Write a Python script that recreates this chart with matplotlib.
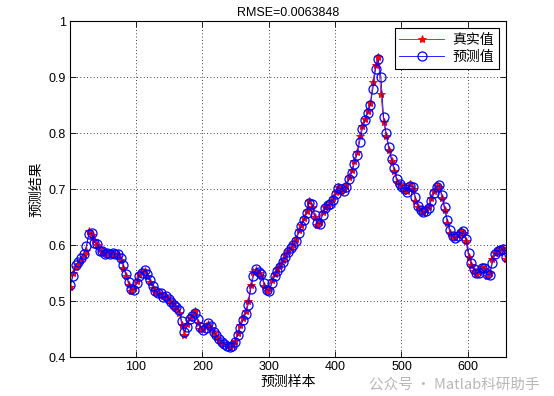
import numpy as np
import matplotlib
matplotlib.use("Agg")
import matplotlib.pyplot as plt

plt.rcParams['font.family'] = ['Liberation Sans', 'Noto Sans CJK SC', 'DejaVu Sans']

title = "RMSE=0.0063848"
xlabel = "预测样本"
ylabel = "预测结果"
legend_labels = ["真实值", "预测值"]
x_ticks = [100, 200, 300, 400, 500, 600]
y_ticks = [0.4, 0.5, 0.6, 0.7, 0.8, 0.9, 1.0]
y_tick_labels = ["0.4", "0.5", "0.6", "0.7", "0.8", "0.9", "1"]
watermark = "公众号 · Matlab科研助手"

sample_start, sample_step = 1, 4

true_vals = [
    0.525, 0.550, 0.561, 0.567, 0.574, 0.582, 0.590, 0.626, 0.618, 0.609,
    0.601, 0.594, 0.588, 0.586, 0.586, 0.586, 0.585, 0.585, 0.583, 0.574,
    0.560, 0.545, 0.530, 0.519, 0.524, 0.536, 0.548, 0.553, 0.554, 0.546,
    0.535, 0.524, 0.517, 0.515, 0.512, 0.510, 0.507, 0.502, 0.497, 0.492,
    0.488, 0.480, 0.458, 0.440, 0.460, 0.470, 0.476, 0.482, 0.462, 0.451,
    0.450, 0.456, 0.460, 0.452, 0.443, 0.436, 0.431, 0.426, 0.423, 0.420,
    0.419, 0.422, 0.430, 0.443, 0.457, 0.470, 0.482, 0.500, 0.530, 0.552,
    0.556, 0.550, 0.546, 0.528, 0.519, 0.522, 0.538, 0.549, 0.557, 0.564,
    0.573, 0.583, 0.590, 0.596, 0.602, 0.612, 0.627, 0.637, 0.648, 0.662,
    0.680, 0.669, 0.650, 0.637, 0.642, 0.659, 0.669, 0.671, 0.676, 0.684,
    0.696, 0.705, 0.697, 0.700, 0.708, 0.722, 0.734, 0.751, 0.767, 0.795,
    0.813, 0.825, 0.840, 0.854, 0.892, 0.922, 0.936, 0.870, 0.821, 0.795,
    0.771, 0.750, 0.733, 0.713, 0.708, 0.703, 0.698, 0.697, 0.710, 0.701,
    0.680, 0.668, 0.661, 0.660, 0.663, 0.670, 0.684, 0.697, 0.706, 0.704,
    0.684, 0.663, 0.640, 0.622, 0.614, 0.615, 0.618, 0.625, 0.622, 0.608,
    0.580, 0.565, 0.555, 0.549, 0.553, 0.562, 0.557, 0.545, 0.550, 0.575,
    0.587, 0.590, 0.593, 0.595, 0.575,
]

pred_vals = [
    0.530, 0.545, 0.565, 0.570, 0.578, 0.585, 0.598, 0.620, 0.622, 0.605,
    0.603, 0.590, 0.590, 0.584, 0.587, 0.585, 0.587, 0.584, 0.585, 0.578,
    0.565, 0.548, 0.534, 0.522, 0.521, 0.532, 0.545, 0.551, 0.556, 0.549,
    0.538, 0.528, 0.519, 0.514, 0.514, 0.508, 0.509, 0.505, 0.499, 0.494,
    0.490, 0.484, 0.464, 0.446, 0.455, 0.468, 0.474, 0.480, 0.468, 0.454,
    0.448, 0.453, 0.462, 0.456, 0.446, 0.439, 0.433, 0.428, 0.424, 0.421,
    0.418, 0.420, 0.427, 0.439, 0.452, 0.466, 0.478, 0.494, 0.522, 0.546,
    0.558, 0.553, 0.548, 0.533, 0.521, 0.519, 0.533, 0.546, 0.555, 0.562,
    0.570, 0.580, 0.588, 0.595, 0.600, 0.608, 0.622, 0.634, 0.645, 0.657,
    0.675, 0.674, 0.655, 0.640, 0.638, 0.654, 0.667, 0.672, 0.674, 0.681,
    0.692, 0.703, 0.701, 0.697, 0.705, 0.718, 0.730, 0.746, 0.762, 0.785,
    0.808, 0.823, 0.836, 0.850, 0.880, 0.915, 0.932, 0.900, 0.830, 0.800,
    0.776, 0.755, 0.738, 0.718, 0.710, 0.705, 0.700, 0.696, 0.706, 0.705,
    0.686, 0.671, 0.663, 0.659, 0.661, 0.667, 0.680, 0.693, 0.704, 0.707,
    0.690, 0.668, 0.646, 0.627, 0.616, 0.613, 0.617, 0.622, 0.625, 0.612,
    0.587, 0.569, 0.558, 0.550, 0.551, 0.559, 0.560, 0.548, 0.547, 0.569,
    0.584, 0.589, 0.591, 0.594, 0.580,
]

x = sample_start + sample_step * np.arange(len(true_vals))

W, H = 554, 396
fig = plt.figure(figsize=(W / 100, H / 100), dpi=100)
L, R, T, B = 70.3, 505.7, 21.3, 357.3
ax = fig.add_axes([L / W, (H - B) / H, (R - L) / W, (B - T) / H])

ax.plot(x, true_vals, color='red', marker='*', markersize=6, linewidth=0.6,
        markeredgewidth=0.7, label=legend_labels[0])
ax.plot(x, pred_vals, color='blue', marker='o', markersize=6.5, linewidth=0.6,
        markerfacecolor='none', markeredgewidth=0.9, label=legend_labels[1])

ax.set_xlim(1, 657)
ax.set_ylim(0.4, 1.0)
ax.set_xticks(x_ticks)
ax.set_yticks(y_ticks)
ax.set_yticklabels(y_tick_labels)
ax.tick_params(direction='in', top=True, right=True, length=4, width=0.6,
               labelsize=9, pad=3)
ax.grid(True, color='black', linestyle=(0, (1, 3)), linewidth=0.6)
for s in ax.spines.values():
    s.set_linewidth(0.8)

ax.set_title(title, fontsize=9, pad=4)
ax.set_xlabel(xlabel, fontsize=10, family=['Noto Sans CJK SC', 'DejaVu Sans'], labelpad=1)
ax.set_ylabel(ylabel, fontsize=10, family=['Noto Sans CJK SC', 'DejaVu Sans'], labelpad=4)

leg = ax.legend(loc='upper right', fancybox=False, edgecolor='black', framealpha=1,
                prop={'family': ['Noto Sans CJK SC', 'DejaVu Sans'], 'size': 10},
                borderaxespad=0.5, handlelength=3.2, labelspacing=0.2,
                borderpad=0.35, handletextpad=0.6)
leg.get_frame().set_linewidth(0.8)

fig.text(540 / W, 1 - 385 / H, watermark, ha='right', va='center', fontsize=10.5,
         color='#a0a0a0', alpha=0.75, family=['Noto Sans CJK SC', 'DejaVu Sans'])

fig.savefig('out.png', dpi=100)
